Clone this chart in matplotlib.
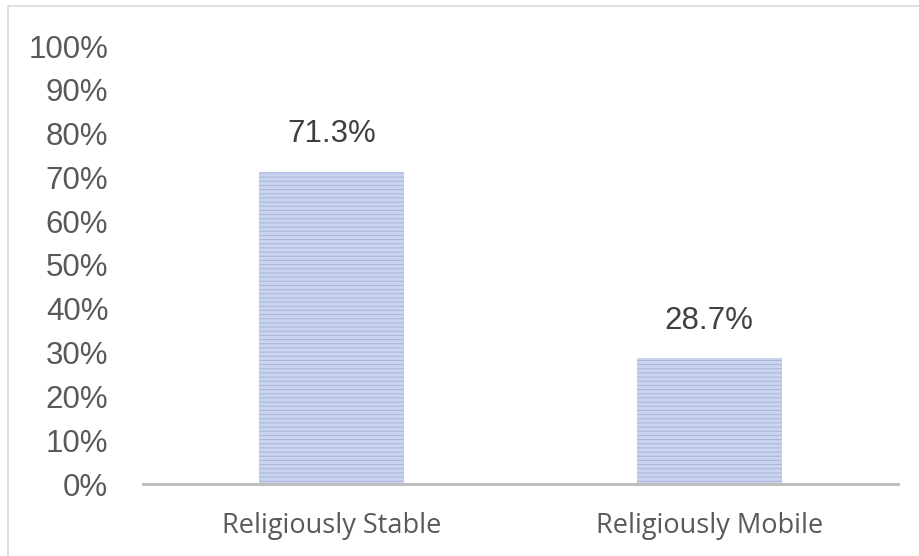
import matplotlib.pyplot as plt
from matplotlib.patches import Rectangle

categories = ["Religiously Stable", "Religiously Mobile"]
shares = [71.3, 28.7]
yticks = list(range(0, 101, 10))

W, H = 919, 556
plt.rcParams['hatch.linewidth'] = 0.7

fig = plt.figure(figsize=(W / 100, H / 100), dpi=100)
# axes box in pixels: left 143, right 898, bottom 484, top 46
ax = fig.add_axes([143 / W, 1 - 484 / H, 755 / W, 438 / H])

x = list(range(len(categories)))
# striped fill: hatch takes the edge colour, outline width kept at zero
ax.bar(x, shares, width=0.385, color='#cad4ef', edgecolor='#a7b5df',
       linewidth=0, hatch='----', zorder=2)

for xi, v in zip(x, shares):
    ax.text(xi, v + 5.1, f"{v}%", ha='center', va='bottom',
            fontsize=22.5, family='Liberation Sans', color='#404040')

ax.set_xlim(-0.5, 1.5)
ax.set_ylim(0, 100)
ax.set_yticks(yticks)
ax.set_yticklabels([f"{t}%" for t in yticks], family='Liberation Sans',
                   fontsize=22.5, color='#595959')
ax.set_xticks(x)
ax.set_xticklabels(categories, family='Open Sans', fontsize=19.5, color='#595959')
ax.tick_params(axis='y', length=0, pad=25)
ax.tick_params(axis='x', length=0, pad=20)

for s in ['top', 'right', 'left']:
    ax.spines[s].set_visible(False)
ax.spines['bottom'].set_color('#bfbfbf')
ax.spines['bottom'].set_linewidth(2.2)
ax.spines['bottom'].set_zorder(3)

# thin frame around the chart area
fig.patches.append(Rectangle((8 / W, -0.1), 1.2, 1.1 - 6 / H,
                             transform=fig.transFigure, fill=False,
                             edgecolor='#d9d9d9', linewidth=1.2))

fig.savefig('out.png', dpi=100)
